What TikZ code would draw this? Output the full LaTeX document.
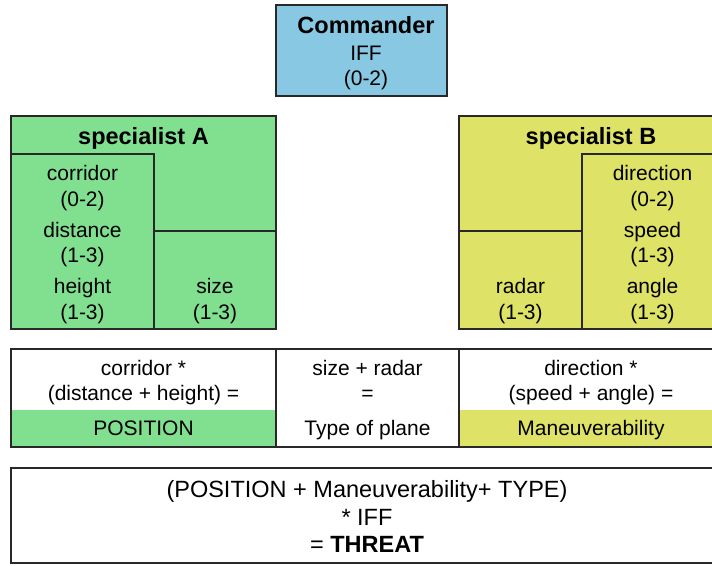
\documentclass[tikz,border=0pt]{standalone}
\usepackage{fontspec}
\setmainfont{Liberation Sans}
\definecolor{cblue}{RGB}{136,200,226}
\definecolor{cgreen}{RGB}{128,224,144}
\definecolor{cyellow}{RGB}{222,226,102}
\definecolor{linec}{RGB}{40,40,40}
\tikzset{
  box/.style={draw=linec, line width=1.3pt},
  txt/.style={anchor=base, inner sep=0pt, font=\fontsize{21}{25}\selectfont},
  ttl/.style={anchor=base, inner sep=0pt, font=\fontsize{23.5}{28}\selectfont\bfseries},
  big/.style={anchor=base, inner sep=0pt, font=\fontsize{23.5}{28}\selectfont}
}
\begin{document}
\begin{tikzpicture}[x=1pt,y=-1pt]
\useasboundingbox (0,0) rectangle (712,565);
\clip (0,0) rectangle (712,565);
% Commander
\filldraw[box, fill=cblue] (276,5) rectangle (447,96);
\node[ttl] (cmd) at (366,33) {Commander};
\node[txt] (iff) at (366,60) {IFF};
\node[txt] (iffr) at (366,85) {(0-2)};
% specialist A
\filldraw[box, fill=cgreen] (11,116) rectangle (276,329);
\draw[box] (11,154) -- (154,154) -- (154,329);
\draw[box] (154,231) -- (276,231);
\node[ttl] (spa) at (143.5,144) {specialist A};
\node[txt] (corr) at (82.5,180) {corridor};
\node[txt] (corrr) at (82.5,206) {(0-2)};
\node[txt] (dist) at (82.5,237) {distance};
\node[txt] (distr) at (82.5,262) {(1-3)};
\node[txt] (hgt) at (82.5,293) {height};
\node[txt] (hgtr) at (82.5,319) {(1-3)};
\node[txt] (size) at (215,293) {size};
\node[txt] (sizer) at (215,319) {(1-3)};
% specialist B
\filldraw[box, fill=cyellow] (459,116) rectangle (723,329);
\draw[box] (723,154) -- (582,154) -- (582,329);
\draw[box] (459,231) -- (582,231);
\node[ttl] (spb) at (591,144) {specialist B};
\node[txt] (dir) at (652.5,180) {direction};
\node[txt] (dirr) at (652.5,206) {(0-2)};
\node[txt] (spd) at (652.5,237) {speed};
\node[txt] (spdr) at (652.5,262) {(1-3)};
\node[txt] (ang) at (652.5,293) {angle};
\node[txt] (angr) at (652.5,319) {(1-3)};
\node[txt] (rad) at (520.5,293) {radar};
\node[txt] (radr) at (520.5,319) {(1-3)};
% middle table
\fill[cgreen] (11,410) rectangle (276,447);
\fill[cyellow] (459,410) rectangle (723,447);
\draw[box] (11,349) rectangle (723,447);
\draw[box] (276,349) -- (276,447);
\draw[box] (459,349) -- (459,447);
\node[txt] (m1a) at (143.5,375) {corridor *};
\node[txt] (m1b) at (143.5,400) {(distance + height) =};
\node[txt] (m1c) at (143.5,435) {POSITION};
\node[txt] (m2a) at (367.5,375) {size + radar};
\node[txt] (m2b) at (367.5,400) {=};
\node[txt] (m2c) at (367.5,435) {Type of plane};
\node[txt] (m3a) at (591,375) {direction *};
\node[txt] (m3b) at (591,400) {(speed + angle) =};
\node[txt] (m3c) at (591,435) {Maneuverability};
% bottom
\draw[box] (11,468) rectangle (723,563);
\node[big] (b1) at (367,497) {(POSITION + Maneuverability+ TYPE)};
\node[big] (b2) at (367,525) {* IFF};
\node[big] (b3) at (367,552) {= \textbf{THREAT}};
\end{tikzpicture}
\end{document}
